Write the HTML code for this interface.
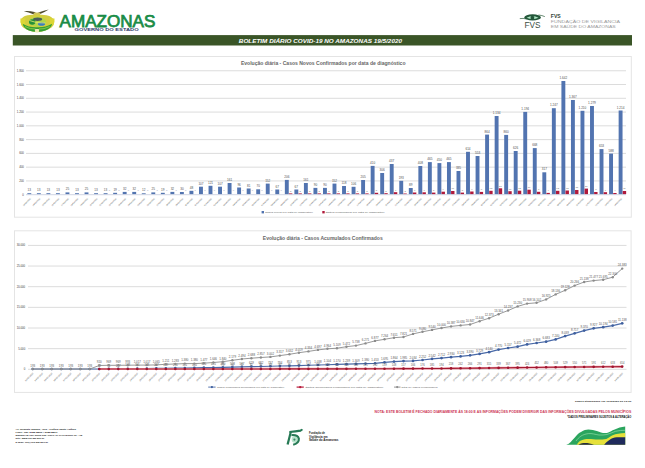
<!DOCTYPE html>
<html lang="pt-BR"><head><meta charset="utf-8"><title>Boletim Diário COVID-19 no Amazonas</title>
<style>html,body{margin:0;padding:0;background:#fff;width:645px;height:468px;overflow:hidden}svg{display:block}</style>
</head><body>
<svg width="645" height="468" viewBox="0 0 645 468" font-family="Liberation Sans, Arial, sans-serif">
<rect width="645" height="468" fill="#fff"/>
<g id="coat">
<path d="M23.8 11.2 Q29 10.6 34.5 12.1 L36.8 13.4 L39.2 12.2 Q43.6 10.3 48.8 9.4 Q45.2 11.6 41.2 13.6 L37.2 15.3 L33.2 14.2 Q28.8 12.4 23.8 11.2Z" fill="#4e4a2c"/>
<path d="M33.6 12.8 Q37 12 40.4 12.8 L40 15.8 L34 15.8Z" fill="#cfc45a"/>
<path d="M21 20.5 Q21.5 16.5 27.5 15.3 Q37 13.8 46.5 15.3 Q52.8 16.5 53.8 20.5 Q54.8 24.5 51.5 27.5 Q45 31.8 37.2 32 Q29.5 31.8 23.2 27.5 Q20 24.5 21 20.5Z" fill="#d2cd3e"/>
<path d="M20.4 18.5 Q19.8 22.5 21.8 25.4 L25.4 24.5 Q24.2 21.5 25.6 18.2Z" fill="#dcd636"/>
<path d="M54.5 18.5 Q55.1 22.5 53.1 25.4 L49.5 24.5 Q50.7 21.5 49.3 18.2Z" fill="#dcd636"/>
<ellipse cx="37.4" cy="21.9" rx="8.8" ry="4.8" fill="#b2d648"/>
<ellipse cx="37.6" cy="19.3" rx="4.6" ry="1.7" fill="#4a5c5a"/>
<ellipse cx="32.2" cy="22" rx="3.2" ry="2.7" fill="#23903a"/>
<ellipse cx="41.5" cy="24" rx="3.6" ry="1.8" fill="#3c7cc0"/>
<path d="M29.5 20.5 Q36 23.5 45.5 23" stroke="#e4e870" stroke-width="0.8" fill="none"/>
<path d="M22.6 23.8 Q29 27.6 37.2 27.3 Q45.5 27.6 52.2 23.8 Q51 28.6 45.5 30.4 Q41 31.8 37.2 31.6 Q33.2 31.8 28.8 30.4 Q23.8 28.6 22.6 23.8Z" fill="#34a034"/>
<path d="M25 26.6 Q30.5 29.4 35.5 29 M39 29 Q44 29.4 49.6 26.6" stroke="#a8d450" stroke-width="0.7" fill="none"/>
<path d="M34.8 29.2 Q37 28.6 39.2 29.2 L38.8 32.3 Q37 32.8 35.2 32.3Z" fill="#f2eeb8"/>
</g>
<text x="59.6" y="26.8" font-size="16.6" fill="#1a8c46" stroke="#1a8c46" stroke-width="0.75" textLength="95.8" lengthAdjust="spacingAndGlyphs">AMAZONAS</text>
<text x="74.6" y="30.8" font-size="2.9" font-weight="bold" fill="#2b3a6a" textLength="64" lengthAdjust="spacingAndGlyphs">GOVERNO DO ESTADO</text>
<g id="fvs">
<path d="M519.8 18.6 Q523 18.1 526.5 18.9" stroke="#2a5a3a" stroke-width="0.7" fill="none"/>
<path d="M538.5 15 Q542 15.3 544.8 16.6" stroke="#2a5a3a" stroke-width="0.7" fill="none"/>
<ellipse cx="532.6" cy="17.4" rx="8.3" ry="3.1" fill="#24573a"/>
<path d="M526.6 17.7 Q532.5 14.9 538.5 17.7 Q532.5 20.3 526.6 17.7Z" fill="#aee6c4"/>
<circle cx="532.4" cy="17.7" r="1.9" fill="#24573a"/>
</g>
<text x="524.6" y="28.4" font-size="8.3" fill="#3a4d42" textLength="16" lengthAdjust="spacingAndGlyphs">FVS</text>
<text x="550.8" y="18.3" font-size="5.2" font-weight="bold" fill="#2f3f35" textLength="9.9" lengthAdjust="spacingAndGlyphs">FVS</text>
<text x="550.8" y="23.4" font-size="3.6" fill="#9a9a9a" textLength="69.2" lengthAdjust="spacingAndGlyphs">FUNDAÇÃO DE VIGILÂNCIA</text>
<text x="550.8" y="28.0" font-size="3.6" fill="#9a9a9a" textLength="64.9" lengthAdjust="spacingAndGlyphs">EM SAÚDE DO AMAZONAS</text>
<rect x="12.8" y="35.1" width="619.2" height="10.4" fill="#3a5527"/>
<text x="238.8" y="42.8" font-size="5.6" font-weight="bold" font-style="italic" fill="#fff" textLength="163.2" lengthAdjust="spacingAndGlyphs">BOLETIM DIÁRIO COVID-19 NO AMAZONAS 19/5/2020</text>
<rect x="14.5" y="56.5" width="616.8" height="160.7" fill="#fff" stroke="#e4e4e4" stroke-width="1"/>
<text x="240.9" y="65.2" font-size="5.2" font-weight="bold" fill="#666" textLength="164.6" lengthAdjust="spacingAndGlyphs">Evolução diária - Casos Novos Confirmados por data de diagnóstico</text>
<line x1="26" y1="70.75" x2="626" y2="70.75" stroke="#dcdcdc" stroke-width="1"/>
<text x="23.8" y="71.75" font-size="2.8" fill="#404040" text-anchor="end">1.800</text>
<line x1="26" y1="84.52" x2="626" y2="84.52" stroke="#dcdcdc" stroke-width="1"/>
<text x="23.8" y="85.52" font-size="2.8" fill="#404040" text-anchor="end">1.600</text>
<line x1="26" y1="98.29" x2="626" y2="98.29" stroke="#dcdcdc" stroke-width="1"/>
<text x="23.8" y="99.29" font-size="2.8" fill="#404040" text-anchor="end">1.400</text>
<line x1="26" y1="112.07" x2="626" y2="112.07" stroke="#dcdcdc" stroke-width="1"/>
<text x="23.8" y="113.07" font-size="2.8" fill="#404040" text-anchor="end">1.200</text>
<line x1="26" y1="125.84" x2="626" y2="125.84" stroke="#dcdcdc" stroke-width="1"/>
<text x="23.8" y="126.84" font-size="2.8" fill="#404040" text-anchor="end">1.000</text>
<line x1="26" y1="139.61" x2="626" y2="139.61" stroke="#dcdcdc" stroke-width="1"/>
<text x="23.8" y="140.61" font-size="2.8" fill="#404040" text-anchor="end">800</text>
<line x1="26" y1="153.38" x2="626" y2="153.38" stroke="#dcdcdc" stroke-width="1"/>
<text x="23.8" y="154.38" font-size="2.8" fill="#404040" text-anchor="end">600</text>
<line x1="26" y1="167.16" x2="626" y2="167.16" stroke="#dcdcdc" stroke-width="1"/>
<text x="23.8" y="168.16" font-size="2.8" fill="#404040" text-anchor="end">400</text>
<line x1="26" y1="180.93" x2="626" y2="180.93" stroke="#dcdcdc" stroke-width="1"/>
<text x="23.8" y="181.93" font-size="2.8" fill="#404040" text-anchor="end">200</text>
<line x1="26" y1="194.70" x2="626" y2="194.70" stroke="#d0d6e4" stroke-width="1"/>
<text x="23.8" y="195.70" font-size="2.8" fill="#404040" text-anchor="end">0</text>
<rect x="27.35" y="193.20" width="3.9" height="0.90" fill="#5274b0"/>
<text x="29.30" y="191.20" font-size="3.1" fill="#505050" text-anchor="middle">13</text>
<text x="31.00" y="198.90" font-size="2.1" fill="#4a4a4a" text-anchor="end" transform="rotate(-45 31.00 198.90)">13/03/2020</text>
<rect x="36.89" y="193.20" width="3.9" height="0.90" fill="#5274b0"/>
<text x="38.84" y="191.20" font-size="3.1" fill="#505050" text-anchor="middle">13</text>
<text x="40.54" y="198.90" font-size="2.1" fill="#4a4a4a" text-anchor="end" transform="rotate(-45 40.54 198.90)">14/03/2020</text>
<rect x="46.42" y="193.20" width="3.9" height="0.90" fill="#5274b0"/>
<text x="48.37" y="191.20" font-size="3.1" fill="#505050" text-anchor="middle">13</text>
<text x="50.07" y="198.90" font-size="2.1" fill="#4a4a4a" text-anchor="end" transform="rotate(-45 50.07 198.90)">15/03/2020</text>
<rect x="55.96" y="193.20" width="3.9" height="0.90" fill="#5274b0"/>
<text x="57.91" y="191.20" font-size="3.1" fill="#505050" text-anchor="middle">13</text>
<text x="59.61" y="198.90" font-size="2.1" fill="#4a4a4a" text-anchor="end" transform="rotate(-45 59.61 198.90)">16/03/2020</text>
<rect x="65.50" y="192.40" width="3.9" height="1.70" fill="#5274b0"/>
<text x="67.45" y="190.40" font-size="3.1" fill="#505050" text-anchor="middle">25</text>
<text x="69.15" y="198.90" font-size="2.1" fill="#4a4a4a" text-anchor="end" transform="rotate(-45 69.15 198.90)">17/03/2020</text>
<rect x="75.03" y="193.20" width="3.9" height="0.90" fill="#5274b0"/>
<text x="76.98" y="191.20" font-size="3.1" fill="#505050" text-anchor="middle">13</text>
<text x="78.69" y="198.90" font-size="2.1" fill="#4a4a4a" text-anchor="end" transform="rotate(-45 78.69 198.90)">18/03/2020</text>
<rect x="84.57" y="192.40" width="3.9" height="1.70" fill="#5274b0"/>
<text x="86.52" y="190.40" font-size="3.1" fill="#505050" text-anchor="middle">25</text>
<text x="88.22" y="198.90" font-size="2.1" fill="#4a4a4a" text-anchor="end" transform="rotate(-45 88.22 198.90)">19/03/2020</text>
<rect x="94.11" y="193.20" width="3.9" height="0.90" fill="#5274b0"/>
<text x="96.06" y="191.20" font-size="3.1" fill="#505050" text-anchor="middle">13</text>
<text x="97.76" y="198.90" font-size="2.1" fill="#4a4a4a" text-anchor="end" transform="rotate(-45 97.76 198.90)">20/03/2020</text>
<rect x="103.65" y="193.20" width="3.9" height="0.90" fill="#5274b0"/>
<text x="105.60" y="191.20" font-size="3.1" fill="#505050" text-anchor="middle">13</text>
<text x="109.45" y="191.10" font-size="2.4" fill="#8090b0" text-anchor="middle">0</text>
<text x="107.30" y="198.90" font-size="2.1" fill="#4a4a4a" text-anchor="end" transform="rotate(-45 107.30 198.90)">21/03/2020</text>
<rect x="113.18" y="192.80" width="3.9" height="1.30" fill="#5274b0"/>
<text x="115.13" y="190.80" font-size="3.1" fill="#505050" text-anchor="middle">19</text>
<text x="118.98" y="191.10" font-size="2.4" fill="#8090b0" text-anchor="middle">0</text>
<text x="116.83" y="198.90" font-size="2.1" fill="#4a4a4a" text-anchor="end" transform="rotate(-45 116.83 198.90)">22/03/2020</text>
<rect x="122.72" y="191.90" width="3.9" height="2.20" fill="#5274b0"/>
<text x="124.67" y="189.90" font-size="3.1" fill="#505050" text-anchor="middle">32</text>
<text x="128.52" y="191.10" font-size="2.4" fill="#8090b0" text-anchor="middle">0</text>
<text x="126.37" y="198.90" font-size="2.1" fill="#4a4a4a" text-anchor="end" transform="rotate(-45 126.37 198.90)">23/03/2020</text>
<rect x="132.26" y="191.90" width="3.9" height="2.20" fill="#5274b0"/>
<text x="134.21" y="189.90" font-size="3.1" fill="#505050" text-anchor="middle">32</text>
<text x="138.06" y="191.10" font-size="2.4" fill="#8090b0" text-anchor="middle">0</text>
<text x="135.91" y="198.90" font-size="2.1" fill="#4a4a4a" text-anchor="end" transform="rotate(-45 135.91 198.90)">24/03/2020</text>
<rect x="141.79" y="193.30" width="3.9" height="0.80" fill="#5274b0"/>
<text x="143.74" y="191.30" font-size="3.1" fill="#505050" text-anchor="middle">12</text>
<text x="147.59" y="191.10" font-size="2.4" fill="#8090b0" text-anchor="middle">0</text>
<text x="145.44" y="198.90" font-size="2.1" fill="#4a4a4a" text-anchor="end" transform="rotate(-45 145.44 198.90)">25/03/2020</text>
<rect x="151.33" y="192.40" width="3.9" height="1.70" fill="#5274b0"/>
<text x="153.28" y="190.40" font-size="3.1" fill="#505050" text-anchor="middle">25</text>
<text x="157.13" y="191.10" font-size="2.4" fill="#8090b0" text-anchor="middle">0</text>
<text x="154.98" y="198.90" font-size="2.1" fill="#4a4a4a" text-anchor="end" transform="rotate(-45 154.98 198.90)">26/03/2020</text>
<rect x="160.87" y="192.80" width="3.9" height="1.30" fill="#5274b0"/>
<text x="162.82" y="190.80" font-size="3.1" fill="#505050" text-anchor="middle">19</text>
<text x="166.67" y="191.10" font-size="2.4" fill="#8090b0" text-anchor="middle">0</text>
<text x="164.52" y="198.90" font-size="2.1" fill="#4a4a4a" text-anchor="end" transform="rotate(-45 164.52 198.90)">27/03/2020</text>
<rect x="170.41" y="191.90" width="3.9" height="2.20" fill="#5274b0"/>
<text x="172.36" y="189.90" font-size="3.1" fill="#505050" text-anchor="middle">32</text>
<text x="176.21" y="191.10" font-size="2.4" fill="#8090b0" text-anchor="middle">0</text>
<text x="174.06" y="198.90" font-size="2.1" fill="#4a4a4a" text-anchor="end" transform="rotate(-45 174.06 198.90)">28/03/2020</text>
<rect x="179.94" y="192.00" width="3.9" height="2.10" fill="#5274b0"/>
<text x="181.89" y="190.00" font-size="3.1" fill="#505050" text-anchor="middle">30</text>
<text x="185.74" y="191.10" font-size="2.4" fill="#8090b0" text-anchor="middle">0</text>
<text x="183.59" y="198.90" font-size="2.1" fill="#4a4a4a" text-anchor="end" transform="rotate(-45 183.59 198.90)">29/03/2020</text>
<rect x="189.48" y="190.80" width="3.9" height="3.30" fill="#5274b0"/>
<text x="191.43" y="188.80" font-size="3.1" fill="#505050" text-anchor="middle">48</text>
<text x="195.28" y="191.10" font-size="2.4" fill="#8090b0" text-anchor="middle">0</text>
<text x="193.13" y="198.90" font-size="2.1" fill="#4a4a4a" text-anchor="end" transform="rotate(-45 193.13 198.90)">30/03/2020</text>
<rect x="199.02" y="186.70" width="3.9" height="7.40" fill="#5274b0"/>
<text x="200.97" y="184.70" font-size="3.1" fill="#505050" text-anchor="middle">107</text>
<text x="204.82" y="191.10" font-size="2.4" fill="#8090b0" text-anchor="middle">0</text>
<text x="202.67" y="198.90" font-size="2.1" fill="#4a4a4a" text-anchor="end" transform="rotate(-45 202.67 198.90)">31/03/2020</text>
<rect x="208.55" y="185.80" width="3.9" height="8.30" fill="#5274b0"/>
<text x="210.50" y="183.80" font-size="3.1" fill="#505050" text-anchor="middle">121</text>
<text x="214.35" y="191.10" font-size="2.4" fill="#8090b0" text-anchor="middle">0</text>
<text x="212.20" y="198.90" font-size="2.1" fill="#4a4a4a" text-anchor="end" transform="rotate(-45 212.20 198.90)">01/04/2020</text>
<rect x="218.09" y="186.70" width="3.9" height="7.40" fill="#5274b0"/>
<text x="220.04" y="184.70" font-size="3.1" fill="#505050" text-anchor="middle">107</text>
<text x="223.89" y="191.10" font-size="2.4" fill="#8090b0" text-anchor="middle">0</text>
<text x="221.74" y="198.90" font-size="2.1" fill="#4a4a4a" text-anchor="end" transform="rotate(-45 221.74 198.90)">02/04/2020</text>
<rect x="227.63" y="183.00" width="3.9" height="11.10" fill="#5274b0"/>
<text x="229.58" y="181.00" font-size="3.1" fill="#505050" text-anchor="middle">161</text>
<text x="233.43" y="191.10" font-size="2.4" fill="#8090b0" text-anchor="middle">0</text>
<text x="231.28" y="198.90" font-size="2.1" fill="#4a4a4a" text-anchor="end" transform="rotate(-45 231.28 198.90)">03/04/2020</text>
<rect x="237.16" y="187.50" width="3.9" height="6.60" fill="#5274b0"/>
<text x="239.11" y="185.50" font-size="3.1" fill="#505050" text-anchor="middle">96</text>
<text x="242.96" y="191.10" font-size="2.4" fill="#8090b0" text-anchor="middle">0</text>
<text x="240.81" y="198.90" font-size="2.1" fill="#4a4a4a" text-anchor="end" transform="rotate(-45 240.81 198.90)">04/04/2020</text>
<rect x="246.70" y="188.50" width="3.9" height="5.60" fill="#5274b0"/>
<text x="248.65" y="186.50" font-size="3.1" fill="#505050" text-anchor="middle">81</text>
<text x="252.50" y="191.10" font-size="2.4" fill="#8090b0" text-anchor="middle">0</text>
<text x="250.35" y="198.90" font-size="2.1" fill="#4a4a4a" text-anchor="end" transform="rotate(-45 250.35 198.90)">05/04/2020</text>
<rect x="256.24" y="189.30" width="3.9" height="4.80" fill="#5274b0"/>
<text x="258.19" y="187.30" font-size="3.1" fill="#505050" text-anchor="middle">70</text>
<text x="262.04" y="191.10" font-size="2.4" fill="#8090b0" text-anchor="middle">0</text>
<text x="259.89" y="198.90" font-size="2.1" fill="#4a4a4a" text-anchor="end" transform="rotate(-45 259.89 198.90)">06/04/2020</text>
<rect x="265.78" y="183.60" width="3.9" height="10.50" fill="#5274b0"/>
<text x="267.73" y="181.60" font-size="3.1" fill="#505050" text-anchor="middle">152</text>
<text x="271.57" y="191.10" font-size="2.4" fill="#8090b0" text-anchor="middle">0</text>
<text x="269.43" y="198.90" font-size="2.1" fill="#4a4a4a" text-anchor="end" transform="rotate(-45 269.43 198.90)">07/04/2020</text>
<rect x="275.31" y="189.50" width="3.9" height="4.60" fill="#5274b0"/>
<text x="277.26" y="187.50" font-size="3.1" fill="#505050" text-anchor="middle">67</text>
<text x="281.11" y="191.10" font-size="2.4" fill="#8090b0" text-anchor="middle">0</text>
<text x="278.96" y="198.90" font-size="2.1" fill="#4a4a4a" text-anchor="end" transform="rotate(-45 278.96 198.90)">08/04/2020</text>
<rect x="284.85" y="179.90" width="3.9" height="14.20" fill="#5274b0"/>
<text x="286.80" y="177.90" font-size="3.1" fill="#505050" text-anchor="middle">206</text>
<rect x="288.95" y="193.40" width="3.4" height="0.70" fill="#b01a3c"/>
<text x="290.65" y="191.80" font-size="2.4" fill="#707070" text-anchor="middle">3</text>
<text x="288.50" y="198.90" font-size="2.1" fill="#4a4a4a" text-anchor="end" transform="rotate(-45 288.50 198.90)">09/04/2020</text>
<rect x="294.39" y="189.50" width="3.9" height="4.60" fill="#5274b0"/>
<text x="296.34" y="187.50" font-size="3.1" fill="#505050" text-anchor="middle">67</text>
<rect x="298.49" y="193.40" width="3.4" height="0.70" fill="#b01a3c"/>
<text x="300.19" y="191.80" font-size="2.4" fill="#707070" text-anchor="middle">3</text>
<text x="298.04" y="198.90" font-size="2.1" fill="#4a4a4a" text-anchor="end" transform="rotate(-45 298.04 198.90)">10/04/2020</text>
<rect x="303.92" y="183.00" width="3.9" height="11.10" fill="#5274b0"/>
<text x="305.87" y="181.00" font-size="3.1" fill="#505050" text-anchor="middle">161</text>
<rect x="308.02" y="193.40" width="3.4" height="0.70" fill="#b01a3c"/>
<text x="309.72" y="191.80" font-size="2.4" fill="#707070" text-anchor="middle">3</text>
<text x="307.57" y="198.90" font-size="2.1" fill="#4a4a4a" text-anchor="end" transform="rotate(-45 307.57 198.90)">11/04/2020</text>
<rect x="313.46" y="187.90" width="3.9" height="6.20" fill="#5274b0"/>
<text x="315.41" y="185.90" font-size="3.1" fill="#505050" text-anchor="middle">90</text>
<rect x="317.56" y="193.40" width="3.4" height="0.70" fill="#b01a3c"/>
<text x="319.26" y="191.80" font-size="2.4" fill="#707070" text-anchor="middle">3</text>
<text x="317.11" y="198.90" font-size="2.1" fill="#4a4a4a" text-anchor="end" transform="rotate(-45 317.11 198.90)">12/04/2020</text>
<rect x="323.00" y="187.90" width="3.9" height="6.20" fill="#5274b0"/>
<text x="324.95" y="185.90" font-size="3.1" fill="#505050" text-anchor="middle">90</text>
<rect x="327.10" y="193.40" width="3.4" height="0.70" fill="#b01a3c"/>
<text x="328.80" y="191.80" font-size="2.4" fill="#707070" text-anchor="middle">3</text>
<text x="326.65" y="198.90" font-size="2.1" fill="#4a4a4a" text-anchor="end" transform="rotate(-45 326.65 198.90)">13/04/2020</text>
<rect x="332.53" y="183.60" width="3.9" height="10.50" fill="#5274b0"/>
<text x="334.48" y="181.60" font-size="3.1" fill="#505050" text-anchor="middle">152</text>
<rect x="336.63" y="193.40" width="3.4" height="0.70" fill="#b01a3c"/>
<text x="338.33" y="191.80" font-size="2.4" fill="#707070" text-anchor="middle">3</text>
<text x="336.18" y="198.90" font-size="2.1" fill="#4a4a4a" text-anchor="end" transform="rotate(-45 336.18 198.90)">14/04/2020</text>
<rect x="342.07" y="186.00" width="3.9" height="8.10" fill="#5274b0"/>
<text x="344.02" y="184.00" font-size="3.1" fill="#505050" text-anchor="middle">118</text>
<rect x="346.17" y="193.40" width="3.4" height="0.70" fill="#b01a3c"/>
<text x="347.87" y="191.80" font-size="2.4" fill="#707070" text-anchor="middle">3</text>
<text x="345.72" y="198.90" font-size="2.1" fill="#4a4a4a" text-anchor="end" transform="rotate(-45 345.72 198.90)">15/04/2020</text>
<rect x="351.61" y="186.80" width="3.9" height="7.30" fill="#5274b0"/>
<text x="353.56" y="184.80" font-size="3.1" fill="#505050" text-anchor="middle">106</text>
<rect x="355.71" y="193.40" width="3.4" height="0.70" fill="#b01a3c"/>
<text x="357.41" y="191.80" font-size="2.4" fill="#707070" text-anchor="middle">3</text>
<text x="355.26" y="198.90" font-size="2.1" fill="#4a4a4a" text-anchor="end" transform="rotate(-45 355.26 198.90)">16/04/2020</text>
<rect x="361.15" y="180.00" width="3.9" height="14.10" fill="#5274b0"/>
<text x="363.10" y="178.00" font-size="3.1" fill="#505050" text-anchor="middle">205</text>
<rect x="365.25" y="193.40" width="3.4" height="0.70" fill="#b01a3c"/>
<text x="366.94" y="191.80" font-size="2.4" fill="#707070" text-anchor="middle">3</text>
<text x="364.80" y="198.90" font-size="2.1" fill="#4a4a4a" text-anchor="end" transform="rotate(-45 364.80 198.90)">17/04/2020</text>
<rect x="370.68" y="165.90" width="3.9" height="28.20" fill="#5274b0"/>
<text x="372.63" y="163.90" font-size="3.1" fill="#505050" text-anchor="middle">410</text>
<rect x="374.78" y="192.80" width="3.4" height="1.30" fill="#b01a3c"/>
<text x="376.48" y="191.20" font-size="2.4" fill="#707070" text-anchor="middle">5</text>
<text x="374.33" y="198.90" font-size="2.1" fill="#4a4a4a" text-anchor="end" transform="rotate(-45 374.33 198.90)">18/04/2020</text>
<rect x="380.22" y="173.00" width="3.9" height="21.10" fill="#5274b0"/>
<text x="382.17" y="171.00" font-size="3.1" fill="#505050" text-anchor="middle">306</text>
<rect x="384.32" y="193.20" width="3.4" height="0.90" fill="#b01a3c"/>
<text x="386.02" y="191.60" font-size="2.4" fill="#707070" text-anchor="middle">3</text>
<text x="383.87" y="198.90" font-size="2.1" fill="#4a4a4a" text-anchor="end" transform="rotate(-45 383.87 198.90)">19/04/2020</text>
<rect x="389.76" y="164.00" width="3.9" height="30.10" fill="#5274b0"/>
<text x="391.71" y="162.00" font-size="3.1" fill="#505050" text-anchor="middle">437</text>
<rect x="393.86" y="192.20" width="3.4" height="1.90" fill="#b01a3c"/>
<text x="395.56" y="190.60" font-size="2.4" fill="#707070" text-anchor="middle">7</text>
<text x="393.41" y="198.90" font-size="2.1" fill="#4a4a4a" text-anchor="end" transform="rotate(-45 393.41 198.90)">20/04/2020</text>
<rect x="399.29" y="180.80" width="3.9" height="13.30" fill="#5274b0"/>
<text x="401.24" y="178.80" font-size="3.1" fill="#505050" text-anchor="middle">193</text>
<rect x="403.39" y="193.50" width="3.4" height="0.60" fill="#b01a3c"/>
<text x="405.09" y="191.90" font-size="2.4" fill="#707070" text-anchor="middle">2</text>
<text x="402.94" y="198.90" font-size="2.1" fill="#4a4a4a" text-anchor="end" transform="rotate(-45 402.94 198.90)">21/04/2020</text>
<rect x="408.83" y="188.00" width="3.9" height="6.10" fill="#5274b0"/>
<text x="410.78" y="186.00" font-size="3.1" fill="#505050" text-anchor="middle">89</text>
<rect x="412.93" y="192.50" width="3.4" height="1.60" fill="#b01a3c"/>
<text x="414.63" y="190.90" font-size="2.4" fill="#707070" text-anchor="middle">6</text>
<text x="412.48" y="198.90" font-size="2.1" fill="#4a4a4a" text-anchor="end" transform="rotate(-45 412.48 198.90)">22/04/2020</text>
<rect x="418.37" y="166.00" width="3.9" height="28.10" fill="#5274b0"/>
<text x="420.32" y="164.00" font-size="3.1" fill="#505050" text-anchor="middle">408</text>
<rect x="422.47" y="192.30" width="3.4" height="1.80" fill="#b01a3c"/>
<text x="424.17" y="190.70" font-size="2.4" fill="#707070" text-anchor="middle">7</text>
<text x="422.02" y="198.90" font-size="2.1" fill="#4a4a4a" text-anchor="end" transform="rotate(-45 422.02 198.90)">23/04/2020</text>
<rect x="427.90" y="162.10" width="3.9" height="32.00" fill="#5274b0"/>
<text x="429.85" y="160.10" font-size="3.1" fill="#505050" text-anchor="middle">465</text>
<rect x="432.00" y="192.60" width="3.4" height="1.50" fill="#b01a3c"/>
<text x="433.70" y="191.00" font-size="2.4" fill="#707070" text-anchor="middle">5</text>
<text x="431.55" y="198.90" font-size="2.1" fill="#4a4a4a" text-anchor="end" transform="rotate(-45 431.55 198.90)">24/04/2020</text>
<rect x="437.44" y="163.10" width="3.9" height="31.00" fill="#5274b0"/>
<text x="439.39" y="161.10" font-size="3.1" fill="#505050" text-anchor="middle">450</text>
<rect x="441.54" y="191.70" width="3.4" height="2.40" fill="#b01a3c"/>
<text x="443.24" y="190.10" font-size="2.4" fill="#707070" text-anchor="middle">9</text>
<text x="441.09" y="198.90" font-size="2.1" fill="#4a4a4a" text-anchor="end" transform="rotate(-45 441.09 198.90)">25/04/2020</text>
<rect x="446.98" y="162.10" width="3.9" height="32.00" fill="#5274b0"/>
<text x="448.93" y="160.10" font-size="3.1" fill="#505050" text-anchor="middle">465</text>
<rect x="451.08" y="191.00" width="3.4" height="3.10" fill="#b01a3c"/>
<text x="452.78" y="189.40" font-size="2.4" fill="#707070" text-anchor="middle">11</text>
<text x="450.63" y="198.90" font-size="2.1" fill="#4a4a4a" text-anchor="end" transform="rotate(-45 450.63 198.90)">26/04/2020</text>
<rect x="456.52" y="171.00" width="3.9" height="23.10" fill="#5274b0"/>
<text x="458.47" y="169.00" font-size="3.1" fill="#505050" text-anchor="middle">335</text>
<rect x="460.62" y="192.60" width="3.4" height="1.50" fill="#b01a3c"/>
<text x="462.31" y="191.00" font-size="2.4" fill="#707070" text-anchor="middle">5</text>
<text x="460.17" y="198.90" font-size="2.1" fill="#4a4a4a" text-anchor="end" transform="rotate(-45 460.17 198.90)">27/04/2020</text>
<rect x="466.05" y="151.80" width="3.9" height="42.30" fill="#5274b0"/>
<text x="468.00" y="149.80" font-size="3.1" fill="#505050" text-anchor="middle">614</text>
<rect x="470.15" y="191.50" width="3.4" height="2.60" fill="#b01a3c"/>
<text x="471.85" y="189.90" font-size="2.4" fill="#707070" text-anchor="middle">9</text>
<text x="469.70" y="198.90" font-size="2.1" fill="#4a4a4a" text-anchor="end" transform="rotate(-45 469.70 198.90)">28/04/2020</text>
<rect x="475.59" y="156.00" width="3.9" height="38.10" fill="#5274b0"/>
<text x="477.54" y="154.00" font-size="3.1" fill="#505050" text-anchor="middle">553</text>
<rect x="479.69" y="191.90" width="3.4" height="2.20" fill="#b01a3c"/>
<text x="481.39" y="190.30" font-size="2.4" fill="#707070" text-anchor="middle">8</text>
<text x="479.24" y="198.90" font-size="2.1" fill="#4a4a4a" text-anchor="end" transform="rotate(-45 479.24 198.90)">29/04/2020</text>
<rect x="485.13" y="134.60" width="3.9" height="59.50" fill="#5274b0"/>
<text x="487.08" y="132.60" font-size="3.1" fill="#505050" text-anchor="middle">864</text>
<rect x="489.23" y="190.80" width="3.4" height="3.30" fill="#b01a3c"/>
<text x="490.93" y="189.20" font-size="2.4" fill="#707070" text-anchor="middle">12</text>
<text x="488.78" y="198.90" font-size="2.1" fill="#4a4a4a" text-anchor="end" transform="rotate(-45 488.78 198.90)">30/04/2020</text>
<rect x="494.66" y="116.00" width="3.9" height="78.10" fill="#5274b0"/>
<text x="496.61" y="114.00" font-size="3.1" fill="#505050" text-anchor="middle">1.134</text>
<rect x="498.76" y="188.30" width="3.4" height="5.80" fill="#b01a3c"/>
<text x="500.46" y="186.70" font-size="2.4" fill="#707070" text-anchor="middle">21</text>
<text x="498.31" y="198.90" font-size="2.1" fill="#4a4a4a" text-anchor="end" transform="rotate(-45 498.31 198.90)">01/05/2020</text>
<rect x="504.20" y="134.90" width="3.9" height="59.20" fill="#5274b0"/>
<text x="506.15" y="132.90" font-size="3.1" fill="#505050" text-anchor="middle">860</text>
<rect x="508.30" y="191.20" width="3.4" height="2.90" fill="#b01a3c"/>
<text x="510.00" y="189.60" font-size="2.4" fill="#707070" text-anchor="middle">11</text>
<text x="507.85" y="198.90" font-size="2.1" fill="#4a4a4a" text-anchor="end" transform="rotate(-45 507.85 198.90)">02/05/2020</text>
<rect x="513.74" y="151.00" width="3.9" height="43.10" fill="#5274b0"/>
<text x="515.69" y="149.00" font-size="3.1" fill="#505050" text-anchor="middle">626</text>
<rect x="517.84" y="190.70" width="3.4" height="3.40" fill="#b01a3c"/>
<text x="519.54" y="189.10" font-size="2.4" fill="#707070" text-anchor="middle">12</text>
<text x="517.39" y="198.90" font-size="2.1" fill="#4a4a4a" text-anchor="end" transform="rotate(-45 517.39 198.90)">03/05/2020</text>
<rect x="523.27" y="111.90" width="3.9" height="82.20" fill="#5274b0"/>
<text x="525.22" y="109.90" font-size="3.1" fill="#505050" text-anchor="middle">1.194</text>
<rect x="527.37" y="189.70" width="3.4" height="4.40" fill="#b01a3c"/>
<text x="529.07" y="188.10" font-size="2.4" fill="#707070" text-anchor="middle">16</text>
<text x="526.92" y="198.90" font-size="2.1" fill="#4a4a4a" text-anchor="end" transform="rotate(-45 526.92 198.90)">04/05/2020</text>
<rect x="532.81" y="148.10" width="3.9" height="46.00" fill="#5274b0"/>
<text x="534.76" y="146.10" font-size="3.1" fill="#505050" text-anchor="middle">668</text>
<rect x="536.91" y="191.80" width="3.4" height="2.30" fill="#b01a3c"/>
<text x="538.61" y="190.20" font-size="2.4" fill="#707070" text-anchor="middle">8</text>
<text x="536.46" y="198.90" font-size="2.1" fill="#4a4a4a" text-anchor="end" transform="rotate(-45 536.46 198.90)">05/05/2020</text>
<rect x="542.35" y="172.30" width="3.9" height="21.80" fill="#5274b0"/>
<text x="544.30" y="170.30" font-size="3.1" fill="#505050" text-anchor="middle">317</text>
<rect x="546.45" y="192.90" width="3.4" height="1.20" fill="#b01a3c"/>
<text x="548.15" y="191.30" font-size="2.4" fill="#707070" text-anchor="middle">4</text>
<text x="546.00" y="198.90" font-size="2.1" fill="#4a4a4a" text-anchor="end" transform="rotate(-45 546.00 198.90)">06/05/2020</text>
<rect x="551.88" y="108.20" width="3.9" height="85.90" fill="#5274b0"/>
<text x="553.84" y="106.20" font-size="3.1" fill="#505050" text-anchor="middle">1.247</text>
<rect x="555.99" y="190.80" width="3.4" height="3.30" fill="#b01a3c"/>
<text x="557.69" y="189.20" font-size="2.4" fill="#707070" text-anchor="middle">12</text>
<text x="555.54" y="198.90" font-size="2.1" fill="#4a4a4a" text-anchor="end" transform="rotate(-45 555.54 198.90)">07/05/2020</text>
<rect x="561.42" y="81.00" width="3.9" height="113.10" fill="#5274b0"/>
<text x="563.37" y="79.00" font-size="3.1" fill="#505050" text-anchor="middle">1.642</text>
<rect x="565.52" y="190.50" width="3.4" height="3.60" fill="#b01a3c"/>
<text x="567.22" y="188.90" font-size="2.4" fill="#707070" text-anchor="middle">13</text>
<text x="565.07" y="198.90" font-size="2.1" fill="#4a4a4a" text-anchor="end" transform="rotate(-45 565.07 198.90)">08/05/2020</text>
<rect x="570.96" y="100.00" width="3.9" height="94.10" fill="#5274b0"/>
<text x="572.91" y="98.00" font-size="3.1" fill="#505050" text-anchor="middle">1.367</text>
<rect x="575.06" y="190.00" width="3.4" height="4.10" fill="#b01a3c"/>
<text x="576.76" y="188.40" font-size="2.4" fill="#707070" text-anchor="middle">15</text>
<text x="574.61" y="198.90" font-size="2.1" fill="#4a4a4a" text-anchor="end" transform="rotate(-45 574.61 198.90)">09/05/2020</text>
<rect x="580.50" y="110.80" width="3.9" height="83.30" fill="#5274b0"/>
<text x="582.45" y="108.80" font-size="3.1" fill="#505050" text-anchor="middle">1.210</text>
<rect x="584.60" y="188.60" width="3.4" height="5.50" fill="#b01a3c"/>
<text x="586.30" y="187.00" font-size="2.4" fill="#707070" text-anchor="middle">20</text>
<text x="584.15" y="198.90" font-size="2.1" fill="#4a4a4a" text-anchor="end" transform="rotate(-45 584.15 198.90)">10/05/2020</text>
<rect x="590.03" y="106.00" width="3.9" height="88.10" fill="#5274b0"/>
<text x="591.98" y="104.00" font-size="3.1" fill="#505050" text-anchor="middle">1.279</text>
<rect x="594.13" y="192.00" width="3.4" height="2.10" fill="#b01a3c"/>
<text x="595.83" y="190.40" font-size="2.4" fill="#707070" text-anchor="middle">8</text>
<text x="593.68" y="198.90" font-size="2.1" fill="#4a4a4a" text-anchor="end" transform="rotate(-45 593.68 198.90)">11/05/2020</text>
<rect x="599.57" y="149.10" width="3.9" height="45.00" fill="#5274b0"/>
<text x="601.52" y="147.10" font-size="3.1" fill="#505050" text-anchor="middle">653</text>
<rect x="603.67" y="192.20" width="3.4" height="1.90" fill="#b01a3c"/>
<text x="605.37" y="190.60" font-size="2.4" fill="#707070" text-anchor="middle">7</text>
<text x="603.22" y="198.90" font-size="2.1" fill="#4a4a4a" text-anchor="end" transform="rotate(-45 603.22 198.90)">12/05/2020</text>
<rect x="609.11" y="153.60" width="3.9" height="40.50" fill="#5274b0"/>
<text x="611.06" y="151.60" font-size="3.1" fill="#505050" text-anchor="middle">588</text>
<rect x="613.21" y="193.00" width="3.4" height="1.10" fill="#b01a3c"/>
<text x="614.91" y="191.40" font-size="2.4" fill="#707070" text-anchor="middle">4</text>
<text x="612.76" y="198.90" font-size="2.1" fill="#4a4a4a" text-anchor="end" transform="rotate(-45 612.76 198.90)">13/05/2020</text>
<rect x="618.64" y="110.50" width="3.9" height="83.60" fill="#5274b0"/>
<text x="620.59" y="108.50" font-size="3.1" fill="#505050" text-anchor="middle">1.214</text>
<rect x="622.74" y="191.00" width="3.4" height="3.10" fill="#b01a3c"/>
<text x="624.44" y="189.40" font-size="2.4" fill="#707070" text-anchor="middle">11</text>
<text x="622.29" y="198.90" font-size="2.1" fill="#4a4a4a" text-anchor="end" transform="rotate(-45 622.29 198.90)">14/05/2020</text>
<rect x="261.6" y="211" width="2.4" height="2.4" fill="#5274b0"/>
<text x="265" y="213.2" font-size="2.2" fill="#595959" textLength="47.8" lengthAdjust="spacingAndGlyphs">Casos novos por data de diagnóstico</text>
<rect x="322.3" y="211" width="2.4" height="2.4" fill="#b01a3c"/>
<text x="325.6" y="213.2" font-size="2.2" fill="#595959" textLength="58.8" lengthAdjust="spacingAndGlyphs">Óbitos confirmados por data de diagnóstico</text>
<rect x="14.5" y="230.8" width="616.6" height="161.6" fill="#fff" stroke="#e4e4e4" stroke-width="1"/>
<text x="262.8" y="239.6" font-size="5.2" font-weight="bold" fill="#666" textLength="119.9" lengthAdjust="spacingAndGlyphs">Evolução diária - Casos Acumulados Confirmados</text>
<line x1="28" y1="245.40" x2="626.5" y2="245.40" stroke="#dcdcdc" stroke-width="1"/>
<text x="25.2" y="246.40" font-size="2.8" fill="#404040" text-anchor="end">30.000</text>
<line x1="28" y1="266.05" x2="626.5" y2="266.05" stroke="#dcdcdc" stroke-width="1"/>
<text x="25.2" y="267.05" font-size="2.8" fill="#404040" text-anchor="end">25.000</text>
<line x1="28" y1="286.70" x2="626.5" y2="286.70" stroke="#dcdcdc" stroke-width="1"/>
<text x="25.2" y="287.70" font-size="2.8" fill="#404040" text-anchor="end">20.000</text>
<line x1="28" y1="307.35" x2="626.5" y2="307.35" stroke="#dcdcdc" stroke-width="1"/>
<text x="25.2" y="308.35" font-size="2.8" fill="#404040" text-anchor="end">15.000</text>
<line x1="28" y1="328.00" x2="626.5" y2="328.00" stroke="#dcdcdc" stroke-width="1"/>
<text x="25.2" y="329.00" font-size="2.8" fill="#404040" text-anchor="end">10.000</text>
<line x1="28" y1="348.65" x2="626.5" y2="348.65" stroke="#dcdcdc" stroke-width="1"/>
<text x="25.2" y="349.65" font-size="2.8" fill="#404040" text-anchor="end">5.000</text>
<line x1="28" y1="369.30" x2="626.5" y2="369.30" stroke="#dcdcdc" stroke-width="1"/>
<text x="25.2" y="370.30" font-size="2.8" fill="#404040" text-anchor="end">0</text>
<polyline points="32.70,369.00 42.21,369.00 51.72,369.00 61.22,369.00 70.73,369.00 80.24,369.00 89.75,369.00 99.26,368.98 108.76,368.93 118.27,368.86 127.78,368.77 137.29,368.68 146.80,368.57 156.30,368.44 165.81,368.31 175.32,368.17 184.83,368.02 194.34,367.86 203.84,367.68 213.35,367.50 222.86,367.32 232.37,367.12 241.88,366.92 251.38,366.70 260.89,366.48 270.40,366.26 279.91,366.02 289.42,365.78 298.92,365.53 308.43,365.27 317.94,365.01 327.45,364.74 336.96,364.47 346.46,364.18 355.97,363.90 365.48,363.60 374.99,363.30 384.50,362.30 394.00,361.60 403.51,361.10 413.02,360.90 422.53,360.00 432.04,358.80 441.54,358.10 451.05,357.20 460.56,356.40 470.07,355.30 479.58,353.90 489.08,352.20 498.59,349.60 508.10,348.00 517.61,346.70 527.12,344.40 536.62,343.00 546.13,341.70 555.64,339.40 565.15,336.10 574.66,333.30 584.16,330.60 593.67,328.30 603.18,327.20 612.69,325.60 622.20,323.30" fill="none" stroke="#4a6aa8" stroke-width="1.2"/>
<circle cx="32.70" cy="369.00" r="1.35" fill="#3e5f9e"/>
<circle cx="42.21" cy="369.00" r="1.35" fill="#3e5f9e"/>
<circle cx="51.72" cy="369.00" r="1.35" fill="#3e5f9e"/>
<circle cx="61.22" cy="369.00" r="1.35" fill="#3e5f9e"/>
<circle cx="70.73" cy="369.00" r="1.35" fill="#3e5f9e"/>
<circle cx="80.24" cy="369.00" r="1.35" fill="#3e5f9e"/>
<circle cx="89.75" cy="369.00" r="1.35" fill="#3e5f9e"/>
<circle cx="99.26" cy="368.98" r="1.35" fill="#3e5f9e"/>
<text x="99.26" y="366.68" font-size="2.9" fill="#555" text-anchor="middle">79</text>
<circle cx="108.76" cy="368.93" r="1.35" fill="#3e5f9e"/>
<text x="108.76" y="366.63" font-size="2.9" fill="#555" text-anchor="middle">91</text>
<circle cx="118.27" cy="368.86" r="1.35" fill="#3e5f9e"/>
<text x="118.27" y="366.56" font-size="2.9" fill="#555" text-anchor="middle">107</text>
<circle cx="127.78" cy="368.77" r="1.35" fill="#3e5f9e"/>
<text x="127.78" y="366.47" font-size="2.9" fill="#555" text-anchor="middle">128</text>
<circle cx="137.29" cy="368.68" r="1.35" fill="#3e5f9e"/>
<text x="137.29" y="366.38" font-size="2.9" fill="#555" text-anchor="middle">151</text>
<circle cx="146.80" cy="368.57" r="1.35" fill="#3e5f9e"/>
<text x="146.80" y="366.27" font-size="2.9" fill="#555" text-anchor="middle">178</text>
<circle cx="156.30" cy="368.44" r="1.35" fill="#3e5f9e"/>
<text x="156.30" y="366.14" font-size="2.9" fill="#555" text-anchor="middle">207</text>
<circle cx="165.81" cy="368.31" r="1.35" fill="#3e5f9e"/>
<text x="165.81" y="366.01" font-size="2.9" fill="#555" text-anchor="middle">239</text>
<circle cx="175.32" cy="368.17" r="1.35" fill="#3e5f9e"/>
<text x="175.32" y="365.87" font-size="2.9" fill="#555" text-anchor="middle">274</text>
<circle cx="184.83" cy="368.02" r="1.35" fill="#3e5f9e"/>
<text x="184.83" y="365.72" font-size="2.9" fill="#555" text-anchor="middle">311</text>
<circle cx="194.34" cy="367.86" r="1.35" fill="#3e5f9e"/>
<text x="194.34" y="365.56" font-size="2.9" fill="#555" text-anchor="middle">350</text>
<circle cx="203.84" cy="367.68" r="1.35" fill="#3e5f9e"/>
<text x="203.84" y="365.38" font-size="2.9" fill="#555" text-anchor="middle">391</text>
<circle cx="213.35" cy="367.50" r="1.35" fill="#3e5f9e"/>
<text x="213.35" y="365.20" font-size="2.9" fill="#555" text-anchor="middle">435</text>
<circle cx="222.86" cy="367.32" r="1.35" fill="#3e5f9e"/>
<text x="222.86" y="365.02" font-size="2.9" fill="#555" text-anchor="middle">480</text>
<circle cx="232.37" cy="367.12" r="1.35" fill="#3e5f9e"/>
<text x="232.37" y="364.82" font-size="2.9" fill="#555" text-anchor="middle">528</text>
<circle cx="241.88" cy="366.92" r="1.35" fill="#3e5f9e"/>
<text x="241.88" y="364.62" font-size="2.9" fill="#555" text-anchor="middle">577</text>
<circle cx="251.38" cy="366.70" r="1.35" fill="#3e5f9e"/>
<text x="251.38" y="364.40" font-size="2.9" fill="#555" text-anchor="middle">629</text>
<circle cx="260.89" cy="366.48" r="1.35" fill="#3e5f9e"/>
<text x="260.89" y="364.18" font-size="2.9" fill="#555" text-anchor="middle">682</text>
<circle cx="270.40" cy="366.26" r="1.35" fill="#3e5f9e"/>
<text x="270.40" y="363.96" font-size="2.9" fill="#555" text-anchor="middle">737</text>
<circle cx="279.91" cy="366.02" r="1.35" fill="#3e5f9e"/>
<text x="279.91" y="363.72" font-size="2.9" fill="#555" text-anchor="middle">794</text>
<circle cx="289.42" cy="365.78" r="1.35" fill="#3e5f9e"/>
<text x="289.42" y="363.48" font-size="2.9" fill="#555" text-anchor="middle">853</text>
<circle cx="298.92" cy="365.53" r="1.35" fill="#3e5f9e"/>
<text x="298.92" y="363.23" font-size="2.9" fill="#555" text-anchor="middle">913</text>
<circle cx="308.43" cy="365.27" r="1.35" fill="#3e5f9e"/>
<text x="308.43" y="362.97" font-size="2.9" fill="#555" text-anchor="middle">975</text>
<circle cx="317.94" cy="365.01" r="1.35" fill="#3e5f9e"/>
<text x="317.94" y="362.71" font-size="2.9" fill="#555" text-anchor="middle">1.038</text>
<circle cx="327.45" cy="364.74" r="1.35" fill="#3e5f9e"/>
<text x="327.45" y="362.44" font-size="2.9" fill="#555" text-anchor="middle">1.104</text>
<circle cx="336.96" cy="364.47" r="1.35" fill="#3e5f9e"/>
<text x="336.96" y="362.17" font-size="2.9" fill="#555" text-anchor="middle">1.170</text>
<circle cx="346.46" cy="364.18" r="1.35" fill="#3e5f9e"/>
<text x="346.46" y="361.88" font-size="2.9" fill="#555" text-anchor="middle">1.239</text>
<circle cx="355.97" cy="363.90" r="1.35" fill="#3e5f9e"/>
<text x="355.97" y="361.60" font-size="2.9" fill="#555" text-anchor="middle">1.309</text>
<circle cx="365.48" cy="363.60" r="1.35" fill="#3e5f9e"/>
<text x="365.48" y="361.30" font-size="2.9" fill="#555" text-anchor="middle">1.380</text>
<circle cx="374.99" cy="363.30" r="1.35" fill="#3e5f9e"/>
<text x="374.99" y="361.00" font-size="2.9" fill="#555" text-anchor="middle">1.453</text>
<circle cx="384.50" cy="362.30" r="1.35" fill="#3e5f9e"/>
<text x="384.50" y="360.00" font-size="2.9" fill="#555" text-anchor="middle">1.695</text>
<circle cx="394.00" cy="361.60" r="1.35" fill="#3e5f9e"/>
<text x="394.00" y="359.30" font-size="2.9" fill="#555" text-anchor="middle">1.864</text>
<circle cx="403.51" cy="361.10" r="1.35" fill="#3e5f9e"/>
<text x="403.51" y="358.80" font-size="2.9" fill="#555" text-anchor="middle">1.985</text>
<circle cx="413.02" cy="360.90" r="1.35" fill="#3e5f9e"/>
<text x="413.02" y="358.60" font-size="2.9" fill="#555" text-anchor="middle">2.034</text>
<circle cx="422.53" cy="360.00" r="1.35" fill="#3e5f9e"/>
<text x="422.53" y="357.70" font-size="2.9" fill="#555" text-anchor="middle">2.252</text>
<circle cx="432.04" cy="358.80" r="1.35" fill="#3e5f9e"/>
<text x="432.04" y="356.50" font-size="2.9" fill="#555" text-anchor="middle">2.542</text>
<circle cx="441.54" cy="358.10" r="1.35" fill="#3e5f9e"/>
<text x="441.54" y="355.80" font-size="2.9" fill="#555" text-anchor="middle">2.712</text>
<circle cx="451.05" cy="357.20" r="1.35" fill="#3e5f9e"/>
<text x="451.05" y="354.90" font-size="2.9" fill="#555" text-anchor="middle">2.930</text>
<circle cx="460.56" cy="356.40" r="1.35" fill="#3e5f9e"/>
<text x="460.56" y="354.10" font-size="2.9" fill="#555" text-anchor="middle">3.123</text>
<circle cx="470.07" cy="355.30" r="1.35" fill="#3e5f9e"/>
<text x="470.07" y="353.00" font-size="2.9" fill="#555" text-anchor="middle">3.390</text>
<circle cx="479.58" cy="353.90" r="1.35" fill="#3e5f9e"/>
<text x="479.58" y="351.60" font-size="2.9" fill="#555" text-anchor="middle">3.729</text>
<circle cx="489.08" cy="352.20" r="1.35" fill="#3e5f9e"/>
<text x="489.08" y="349.90" font-size="2.9" fill="#555" text-anchor="middle">4.140</text>
<circle cx="498.59" cy="349.60" r="1.35" fill="#3e5f9e"/>
<text x="498.59" y="347.30" font-size="2.9" fill="#555" text-anchor="middle">4.770</text>
<circle cx="508.10" cy="348.00" r="1.35" fill="#3e5f9e"/>
<text x="508.10" y="345.70" font-size="2.9" fill="#555" text-anchor="middle">5.157</text>
<circle cx="517.61" cy="346.70" r="1.35" fill="#3e5f9e"/>
<text x="517.61" y="344.40" font-size="2.9" fill="#555" text-anchor="middle">5.472</text>
<circle cx="527.12" cy="344.40" r="1.35" fill="#3e5f9e"/>
<text x="527.12" y="342.10" font-size="2.9" fill="#555" text-anchor="middle">6.029</text>
<circle cx="536.62" cy="343.00" r="1.35" fill="#3e5f9e"/>
<text x="536.62" y="340.70" font-size="2.9" fill="#555" text-anchor="middle">6.368</text>
<circle cx="546.13" cy="341.70" r="1.35" fill="#3e5f9e"/>
<text x="546.13" y="339.40" font-size="2.9" fill="#555" text-anchor="middle">6.683</text>
<circle cx="555.64" cy="339.40" r="1.35" fill="#3e5f9e"/>
<text x="555.64" y="337.10" font-size="2.9" fill="#555" text-anchor="middle">7.240</text>
<circle cx="565.15" cy="336.10" r="1.35" fill="#3e5f9e"/>
<text x="565.15" y="333.80" font-size="2.9" fill="#555" text-anchor="middle">8.039</text>
<circle cx="574.66" cy="333.30" r="1.35" fill="#3e5f9e"/>
<text x="574.66" y="331.00" font-size="2.9" fill="#555" text-anchor="middle">8.717</text>
<circle cx="584.16" cy="330.60" r="1.35" fill="#3e5f9e"/>
<text x="584.16" y="328.30" font-size="2.9" fill="#555" text-anchor="middle">9.370</text>
<circle cx="593.67" cy="328.30" r="1.35" fill="#3e5f9e"/>
<text x="593.67" y="326.00" font-size="2.9" fill="#555" text-anchor="middle">9.927</text>
<circle cx="603.18" cy="327.20" r="1.35" fill="#3e5f9e"/>
<text x="603.18" y="324.90" font-size="2.9" fill="#555" text-anchor="middle">10.194</text>
<circle cx="612.69" cy="325.60" r="1.35" fill="#3e5f9e"/>
<text x="612.69" y="323.30" font-size="2.9" fill="#555" text-anchor="middle">10.581</text>
<circle cx="622.20" cy="323.30" r="1.35" fill="#3e5f9e"/>
<text x="622.20" y="321.00" font-size="2.9" fill="#555" text-anchor="middle">11.138</text>
<polyline points="99.26,369.00 108.76,369.00 118.27,369.00 127.78,369.00 137.29,369.00 146.80,369.00 156.30,369.00 165.81,369.00 175.32,369.00 184.83,369.00 194.34,369.00 203.84,369.00 213.35,369.00 222.86,369.00 232.37,368.99 241.88,368.97 251.38,368.96 260.89,368.95 270.40,368.93 279.91,368.92 289.42,368.91 298.92,368.89 308.43,368.88 317.94,368.87 327.45,368.85 336.96,368.84 346.46,368.83 355.97,368.81 365.48,368.80 374.99,368.76 384.50,368.73 394.00,368.69 403.51,368.65 413.02,368.61 422.53,368.57 432.04,368.54 441.54,368.50 451.05,368.40 460.56,368.30 470.07,368.20 479.58,368.10 489.08,368.00 498.59,367.90 508.10,367.78 517.61,367.67 527.12,367.55 536.62,367.43 546.13,367.32 555.64,367.20 565.15,367.11 574.66,367.03 584.16,366.94 593.67,366.86 603.18,366.77 612.69,366.69 622.20,366.60" fill="none" stroke="#eea0ac" stroke-width="2.2"/>
<polyline points="99.26,369.00 108.76,369.00 118.27,369.00 127.78,369.00 137.29,369.00 146.80,369.00 156.30,369.00 165.81,369.00 175.32,369.00 184.83,369.00 194.34,369.00 203.84,369.00 213.35,369.00 222.86,369.00 232.37,368.99 241.88,368.97 251.38,368.96 260.89,368.95 270.40,368.93 279.91,368.92 289.42,368.91 298.92,368.89 308.43,368.88 317.94,368.87 327.45,368.85 336.96,368.84 346.46,368.83 355.97,368.81 365.48,368.80 374.99,368.76 384.50,368.73 394.00,368.69 403.51,368.65 413.02,368.61 422.53,368.57 432.04,368.54 441.54,368.50 451.05,368.40 460.56,368.30 470.07,368.20 479.58,368.10 489.08,368.00 498.59,367.90 508.10,367.78 517.61,367.67 527.12,367.55 536.62,367.43 546.13,367.32 555.64,367.20 565.15,367.11 574.66,367.03 584.16,366.94 593.67,366.86 603.18,366.77 612.69,366.69 622.20,366.60" fill="none" stroke="#a3182f" stroke-width="1.1"/>
<circle cx="99.26" cy="369.00" r="1.3" fill="#a0142e"/>
<circle cx="108.76" cy="369.00" r="1.3" fill="#a0142e"/>
<circle cx="118.27" cy="369.00" r="1.3" fill="#a0142e"/>
<circle cx="127.78" cy="369.00" r="1.3" fill="#a0142e"/>
<circle cx="137.29" cy="369.00" r="1.3" fill="#a0142e"/>
<circle cx="146.80" cy="369.00" r="1.3" fill="#a0142e"/>
<circle cx="156.30" cy="369.00" r="1.3" fill="#a0142e"/>
<circle cx="165.81" cy="369.00" r="1.3" fill="#a0142e"/>
<circle cx="175.32" cy="369.00" r="1.3" fill="#a0142e"/>
<circle cx="184.83" cy="369.00" r="1.3" fill="#a0142e"/>
<circle cx="194.34" cy="369.00" r="1.3" fill="#a0142e"/>
<circle cx="203.84" cy="369.00" r="1.3" fill="#a0142e"/>
<circle cx="213.35" cy="369.00" r="1.3" fill="#a0142e"/>
<circle cx="222.86" cy="369.00" r="1.3" fill="#a0142e"/>
<text x="222.86" y="366.00" font-size="2.7" fill="#5a5a5a" text-anchor="middle">73</text>
<circle cx="232.37" cy="368.99" r="1.3" fill="#a0142e"/>
<text x="232.37" y="365.99" font-size="2.7" fill="#5a5a5a" text-anchor="middle">76</text>
<circle cx="241.88" cy="368.97" r="1.3" fill="#a0142e"/>
<text x="241.88" y="365.97" font-size="2.7" fill="#5a5a5a" text-anchor="middle">79</text>
<circle cx="251.38" cy="368.96" r="1.3" fill="#a0142e"/>
<text x="251.38" y="365.96" font-size="2.7" fill="#5a5a5a" text-anchor="middle">82</text>
<circle cx="260.89" cy="368.95" r="1.3" fill="#a0142e"/>
<text x="260.89" y="365.95" font-size="2.7" fill="#5a5a5a" text-anchor="middle">86</text>
<circle cx="270.40" cy="368.93" r="1.3" fill="#a0142e"/>
<text x="270.40" y="365.93" font-size="2.7" fill="#5a5a5a" text-anchor="middle">89</text>
<circle cx="279.91" cy="368.92" r="1.3" fill="#a0142e"/>
<text x="279.91" y="365.92" font-size="2.7" fill="#5a5a5a" text-anchor="middle">92</text>
<circle cx="289.42" cy="368.91" r="1.3" fill="#a0142e"/>
<text x="289.42" y="365.91" font-size="2.7" fill="#5a5a5a" text-anchor="middle">95</text>
<circle cx="298.92" cy="368.89" r="1.3" fill="#a0142e"/>
<text x="298.92" y="365.89" font-size="2.7" fill="#5a5a5a" text-anchor="middle">98</text>
<circle cx="308.43" cy="368.88" r="1.3" fill="#a0142e"/>
<text x="308.43" y="365.88" font-size="2.7" fill="#5a5a5a" text-anchor="middle">102</text>
<circle cx="317.94" cy="368.87" r="1.3" fill="#a0142e"/>
<text x="317.94" y="365.87" font-size="2.7" fill="#5a5a5a" text-anchor="middle">105</text>
<circle cx="327.45" cy="368.85" r="1.3" fill="#a0142e"/>
<text x="327.45" y="365.85" font-size="2.7" fill="#5a5a5a" text-anchor="middle">108</text>
<circle cx="336.96" cy="368.84" r="1.3" fill="#a0142e"/>
<text x="336.96" y="365.84" font-size="2.7" fill="#5a5a5a" text-anchor="middle">111</text>
<circle cx="346.46" cy="368.83" r="1.3" fill="#a0142e"/>
<text x="346.46" y="365.83" font-size="2.7" fill="#5a5a5a" text-anchor="middle">115</text>
<circle cx="355.97" cy="368.81" r="1.3" fill="#a0142e"/>
<text x="355.97" y="365.81" font-size="2.7" fill="#5a5a5a" text-anchor="middle">118</text>
<circle cx="365.48" cy="368.80" r="1.3" fill="#a0142e"/>
<text x="365.48" y="365.80" font-size="2.7" fill="#5a5a5a" text-anchor="middle">121</text>
<circle cx="374.99" cy="368.76" r="1.3" fill="#a0142e"/>
<text x="374.99" y="365.76" font-size="2.7" fill="#5a5a5a" text-anchor="middle">130</text>
<circle cx="384.50" cy="368.73" r="1.3" fill="#a0142e"/>
<text x="384.50" y="365.73" font-size="2.7" fill="#5a5a5a" text-anchor="middle">139</text>
<circle cx="394.00" cy="368.69" r="1.3" fill="#a0142e"/>
<text x="394.00" y="365.69" font-size="2.7" fill="#5a5a5a" text-anchor="middle">148</text>
<circle cx="403.51" cy="368.65" r="1.3" fill="#a0142e"/>
<text x="403.51" y="365.65" font-size="2.7" fill="#5a5a5a" text-anchor="middle">157</text>
<circle cx="413.02" cy="368.61" r="1.3" fill="#a0142e"/>
<text x="413.02" y="365.61" font-size="2.7" fill="#5a5a5a" text-anchor="middle">166</text>
<circle cx="422.53" cy="368.57" r="1.3" fill="#a0142e"/>
<text x="422.53" y="365.57" font-size="2.7" fill="#5a5a5a" text-anchor="middle">176</text>
<circle cx="432.04" cy="368.54" r="1.3" fill="#a0142e"/>
<text x="432.04" y="365.54" font-size="2.7" fill="#5a5a5a" text-anchor="middle">185</text>
<circle cx="441.54" cy="368.50" r="1.3" fill="#a0142e"/>
<text x="441.54" y="365.50" font-size="2.7" fill="#5a5a5a" text-anchor="middle">194</text>
<circle cx="451.05" cy="368.40" r="1.3" fill="#a0142e"/>
<text x="451.05" y="365.40" font-size="2.7" fill="#5a5a5a" text-anchor="middle">218</text>
<circle cx="460.56" cy="368.30" r="1.3" fill="#a0142e"/>
<text x="460.56" y="365.30" font-size="2.7" fill="#5a5a5a" text-anchor="middle">242</text>
<circle cx="470.07" cy="368.20" r="1.3" fill="#a0142e"/>
<text x="470.07" y="365.20" font-size="2.7" fill="#5a5a5a" text-anchor="middle">266</text>
<circle cx="479.58" cy="368.10" r="1.3" fill="#a0142e"/>
<text x="479.58" y="365.10" font-size="2.7" fill="#5a5a5a" text-anchor="middle">291</text>
<circle cx="489.08" cy="368.00" r="1.3" fill="#a0142e"/>
<text x="489.08" y="365.00" font-size="2.7" fill="#5a5a5a" text-anchor="middle">315</text>
<circle cx="498.59" cy="367.90" r="1.3" fill="#a0142e"/>
<text x="498.59" y="364.90" font-size="2.7" fill="#5a5a5a" text-anchor="middle">339</text>
<circle cx="508.10" cy="367.78" r="1.3" fill="#a0142e"/>
<text x="508.10" y="364.78" font-size="2.7" fill="#5a5a5a" text-anchor="middle">367</text>
<circle cx="517.61" cy="367.67" r="1.3" fill="#a0142e"/>
<text x="517.61" y="364.67" font-size="2.7" fill="#5a5a5a" text-anchor="middle">395</text>
<circle cx="527.12" cy="367.55" r="1.3" fill="#a0142e"/>
<text x="527.12" y="364.55" font-size="2.7" fill="#5a5a5a" text-anchor="middle">424</text>
<circle cx="536.62" cy="367.43" r="1.3" fill="#a0142e"/>
<text x="536.62" y="364.43" font-size="2.7" fill="#5a5a5a" text-anchor="middle">452</text>
<circle cx="546.13" cy="367.32" r="1.3" fill="#a0142e"/>
<text x="546.13" y="364.32" font-size="2.7" fill="#5a5a5a" text-anchor="middle">480</text>
<circle cx="555.64" cy="367.20" r="1.3" fill="#a0142e"/>
<text x="555.64" y="364.20" font-size="2.7" fill="#5a5a5a" text-anchor="middle">508</text>
<circle cx="565.15" cy="367.11" r="1.3" fill="#a0142e"/>
<text x="565.15" y="364.11" font-size="2.7" fill="#5a5a5a" text-anchor="middle">529</text>
<circle cx="574.66" cy="367.03" r="1.3" fill="#a0142e"/>
<text x="574.66" y="364.03" font-size="2.7" fill="#5a5a5a" text-anchor="middle">550</text>
<circle cx="584.16" cy="366.94" r="1.3" fill="#a0142e"/>
<text x="584.16" y="363.94" font-size="2.7" fill="#5a5a5a" text-anchor="middle">571</text>
<circle cx="593.67" cy="366.86" r="1.3" fill="#a0142e"/>
<text x="593.67" y="363.86" font-size="2.7" fill="#5a5a5a" text-anchor="middle">591</text>
<circle cx="603.18" cy="366.77" r="1.3" fill="#a0142e"/>
<text x="603.18" y="363.77" font-size="2.7" fill="#5a5a5a" text-anchor="middle">612</text>
<circle cx="612.69" cy="366.69" r="1.3" fill="#a0142e"/>
<text x="612.69" y="363.69" font-size="2.7" fill="#5a5a5a" text-anchor="middle">633</text>
<circle cx="622.20" cy="366.60" r="1.3" fill="#a0142e"/>
<text x="622.20" y="363.60" font-size="2.7" fill="#5a5a5a" text-anchor="middle">654</text>
<polyline points="32.70,369.00 42.21,369.00 51.72,369.00 61.22,369.00 70.73,369.00 80.24,369.00 89.75,369.00 99.26,365.50 108.76,365.30 118.27,365.30 127.78,365.20 137.29,365.10 146.80,365.10 156.30,364.90 165.81,364.30 175.32,364.00 184.83,363.60 194.34,363.60 203.84,363.20 213.35,362.50 222.86,361.70 232.37,360.30 241.88,359.00 251.38,358.20 260.89,357.50 270.40,356.90 279.91,355.60 289.42,354.30 298.92,352.70 308.43,351.40 317.94,349.90 327.45,348.80 336.96,348.20 346.46,346.70 355.97,345.60 365.48,343.40 374.99,340.90 384.50,339.30 394.00,337.70 403.51,337.00 413.02,333.90 422.53,331.80 432.04,329.90 441.54,328.00 451.05,326.40 460.56,325.40 470.07,324.50 479.58,321.20 489.08,318.20 498.59,314.20 508.10,310.50 517.61,306.40 527.12,303.60 536.62,302.80 546.13,299.40 555.64,294.40 565.15,290.30 574.66,285.60 584.16,282.00 593.67,280.60 603.18,279.70 612.69,277.20 622.20,268.60" fill="none" stroke="#8c8c8c" stroke-width="0.9"/>
<circle cx="32.70" cy="369.00" r="1.2" fill="#8c8c8c"/>
<text x="32.70" y="366.80" font-size="2.9" fill="#555" text-anchor="middle">193</text>
<circle cx="42.21" cy="369.00" r="1.2" fill="#8c8c8c"/>
<text x="42.21" y="366.80" font-size="2.9" fill="#555" text-anchor="middle">193</text>
<circle cx="51.72" cy="369.00" r="1.2" fill="#8c8c8c"/>
<text x="51.72" y="366.80" font-size="2.9" fill="#555" text-anchor="middle">193</text>
<circle cx="61.22" cy="369.00" r="1.2" fill="#8c8c8c"/>
<text x="61.22" y="366.80" font-size="2.9" fill="#555" text-anchor="middle">193</text>
<circle cx="70.73" cy="369.00" r="1.2" fill="#8c8c8c"/>
<text x="70.73" y="366.80" font-size="2.9" fill="#555" text-anchor="middle">193</text>
<circle cx="80.24" cy="369.00" r="1.2" fill="#8c8c8c"/>
<text x="80.24" y="366.80" font-size="2.9" fill="#555" text-anchor="middle">193</text>
<circle cx="89.75" cy="369.00" r="1.2" fill="#8c8c8c"/>
<text x="89.75" y="366.80" font-size="2.9" fill="#555" text-anchor="middle">193</text>
<circle cx="99.26" cy="365.50" r="1.2" fill="#8c8c8c"/>
<text x="99.26" y="363.30" font-size="2.9" fill="#555" text-anchor="middle">920</text>
<circle cx="108.76" cy="365.30" r="1.2" fill="#8c8c8c"/>
<text x="108.76" y="363.10" font-size="2.9" fill="#555" text-anchor="middle">969</text>
<circle cx="118.27" cy="365.30" r="1.2" fill="#8c8c8c"/>
<text x="118.27" y="363.10" font-size="2.9" fill="#555" text-anchor="middle">969</text>
<circle cx="127.78" cy="365.20" r="1.2" fill="#8c8c8c"/>
<text x="127.78" y="363.00" font-size="2.9" fill="#555" text-anchor="middle">993</text>
<circle cx="137.29" cy="365.10" r="1.2" fill="#8c8c8c"/>
<text x="137.29" y="362.90" font-size="2.9" fill="#555" text-anchor="middle">1.017</text>
<circle cx="146.80" cy="365.10" r="1.2" fill="#8c8c8c"/>
<text x="146.80" y="362.90" font-size="2.9" fill="#555" text-anchor="middle">1.017</text>
<circle cx="156.30" cy="364.90" r="1.2" fill="#8c8c8c"/>
<text x="156.30" y="362.70" font-size="2.9" fill="#555" text-anchor="middle">1.065</text>
<circle cx="165.81" cy="364.30" r="1.2" fill="#8c8c8c"/>
<text x="165.81" y="362.10" font-size="2.9" fill="#555" text-anchor="middle">1.211</text>
<circle cx="175.32" cy="364.00" r="1.2" fill="#8c8c8c"/>
<text x="175.32" y="361.80" font-size="2.9" fill="#555" text-anchor="middle">1.283</text>
<circle cx="184.83" cy="363.60" r="1.2" fill="#8c8c8c"/>
<text x="184.83" y="361.40" font-size="2.9" fill="#555" text-anchor="middle">1.380</text>
<circle cx="194.34" cy="363.60" r="1.2" fill="#8c8c8c"/>
<text x="194.34" y="361.40" font-size="2.9" fill="#555" text-anchor="middle">1.380</text>
<circle cx="203.84" cy="363.20" r="1.2" fill="#8c8c8c"/>
<text x="203.84" y="361.00" font-size="2.9" fill="#555" text-anchor="middle">1.477</text>
<circle cx="213.35" cy="362.50" r="1.2" fill="#8c8c8c"/>
<text x="213.35" y="360.30" font-size="2.9" fill="#555" text-anchor="middle">1.646</text>
<circle cx="222.86" cy="361.70" r="1.2" fill="#8c8c8c"/>
<text x="222.86" y="359.50" font-size="2.9" fill="#555" text-anchor="middle">1.840</text>
<circle cx="232.37" cy="360.30" r="1.2" fill="#8c8c8c"/>
<text x="232.37" y="358.10" font-size="2.9" fill="#555" text-anchor="middle">2.179</text>
<circle cx="241.88" cy="359.00" r="1.2" fill="#8c8c8c"/>
<text x="241.88" y="356.80" font-size="2.9" fill="#555" text-anchor="middle">2.494</text>
<circle cx="251.38" cy="358.20" r="1.2" fill="#8c8c8c"/>
<text x="251.38" y="356.00" font-size="2.9" fill="#555" text-anchor="middle">2.688</text>
<circle cx="260.89" cy="357.50" r="1.2" fill="#8c8c8c"/>
<text x="260.89" y="355.30" font-size="2.9" fill="#555" text-anchor="middle">2.857</text>
<circle cx="270.40" cy="356.90" r="1.2" fill="#8c8c8c"/>
<text x="270.40" y="354.70" font-size="2.9" fill="#555" text-anchor="middle">3.002</text>
<circle cx="279.91" cy="355.60" r="1.2" fill="#8c8c8c"/>
<text x="279.91" y="353.40" font-size="2.9" fill="#555" text-anchor="middle">3.317</text>
<circle cx="289.42" cy="354.30" r="1.2" fill="#8c8c8c"/>
<text x="289.42" y="352.10" font-size="2.9" fill="#555" text-anchor="middle">3.632</text>
<circle cx="298.92" cy="352.70" r="1.2" fill="#8c8c8c"/>
<text x="298.92" y="350.50" font-size="2.9" fill="#555" text-anchor="middle">4.019</text>
<circle cx="308.43" cy="351.40" r="1.2" fill="#8c8c8c"/>
<text x="308.43" y="349.20" font-size="2.9" fill="#555" text-anchor="middle">4.334</text>
<circle cx="317.94" cy="349.90" r="1.2" fill="#8c8c8c"/>
<text x="317.94" y="347.70" font-size="2.9" fill="#555" text-anchor="middle">4.697</text>
<circle cx="327.45" cy="348.80" r="1.2" fill="#8c8c8c"/>
<text x="327.45" y="346.60" font-size="2.9" fill="#555" text-anchor="middle">4.964</text>
<circle cx="336.96" cy="348.20" r="1.2" fill="#8c8c8c"/>
<text x="336.96" y="346.00" font-size="2.9" fill="#555" text-anchor="middle">5.109</text>
<circle cx="346.46" cy="346.70" r="1.2" fill="#8c8c8c"/>
<text x="346.46" y="344.50" font-size="2.9" fill="#555" text-anchor="middle">5.472</text>
<circle cx="355.97" cy="345.60" r="1.2" fill="#8c8c8c"/>
<text x="355.97" y="343.40" font-size="2.9" fill="#555" text-anchor="middle">5.738</text>
<circle cx="365.48" cy="343.40" r="1.2" fill="#8c8c8c"/>
<text x="365.48" y="341.20" font-size="2.9" fill="#555" text-anchor="middle">6.271</text>
<circle cx="374.99" cy="340.90" r="1.2" fill="#8c8c8c"/>
<text x="374.99" y="338.70" font-size="2.9" fill="#555" text-anchor="middle">6.877</text>
<circle cx="384.50" cy="339.30" r="1.2" fill="#8c8c8c"/>
<text x="384.50" y="337.10" font-size="2.9" fill="#555" text-anchor="middle">7.264</text>
<circle cx="394.00" cy="337.70" r="1.2" fill="#8c8c8c"/>
<text x="394.00" y="335.50" font-size="2.9" fill="#555" text-anchor="middle">7.651</text>
<circle cx="403.51" cy="337.00" r="1.2" fill="#8c8c8c"/>
<text x="403.51" y="334.80" font-size="2.9" fill="#555" text-anchor="middle">7.821</text>
<circle cx="413.02" cy="333.90" r="1.2" fill="#8c8c8c"/>
<text x="413.02" y="331.70" font-size="2.9" fill="#555" text-anchor="middle">8.571</text>
<circle cx="422.53" cy="331.80" r="1.2" fill="#8c8c8c"/>
<text x="422.53" y="329.60" font-size="2.9" fill="#555" text-anchor="middle">9.080</text>
<circle cx="432.04" cy="329.90" r="1.2" fill="#8c8c8c"/>
<text x="432.04" y="327.70" font-size="2.9" fill="#555" text-anchor="middle">9.540</text>
<circle cx="441.54" cy="328.00" r="1.2" fill="#8c8c8c"/>
<text x="441.54" y="325.80" font-size="2.9" fill="#555" text-anchor="middle">10.000</text>
<circle cx="451.05" cy="326.40" r="1.2" fill="#8c8c8c"/>
<text x="451.05" y="324.20" font-size="2.9" fill="#555" text-anchor="middle">10.387</text>
<circle cx="460.56" cy="325.40" r="1.2" fill="#8c8c8c"/>
<text x="460.56" y="323.20" font-size="2.9" fill="#555" text-anchor="middle">10.630</text>
<circle cx="470.07" cy="324.50" r="1.2" fill="#8c8c8c"/>
<text x="470.07" y="322.30" font-size="2.9" fill="#555" text-anchor="middle">10.847</text>
<circle cx="479.58" cy="321.20" r="1.2" fill="#8c8c8c"/>
<text x="479.58" y="319.00" font-size="2.9" fill="#555" text-anchor="middle">11.646</text>
<circle cx="489.08" cy="318.20" r="1.2" fill="#8c8c8c"/>
<text x="489.08" y="316.00" font-size="2.9" fill="#555" text-anchor="middle">12.373</text>
<circle cx="498.59" cy="314.20" r="1.2" fill="#8c8c8c"/>
<text x="498.59" y="312.00" font-size="2.9" fill="#555" text-anchor="middle">13.341</text>
<circle cx="508.10" cy="310.50" r="1.2" fill="#8c8c8c"/>
<text x="508.10" y="308.30" font-size="2.9" fill="#555" text-anchor="middle">14.237</text>
<circle cx="517.61" cy="306.40" r="1.2" fill="#8c8c8c"/>
<text x="517.61" y="304.20" font-size="2.9" fill="#555" text-anchor="middle">15.230</text>
<circle cx="527.12" cy="303.60" r="1.2" fill="#8c8c8c"/>
<text x="527.12" y="301.40" font-size="2.9" fill="#555" text-anchor="middle">15.908</text>
<circle cx="536.62" cy="302.80" r="1.2" fill="#8c8c8c"/>
<text x="536.62" y="300.60" font-size="2.9" fill="#555" text-anchor="middle">16.102</text>
<circle cx="546.13" cy="299.40" r="1.2" fill="#8c8c8c"/>
<text x="546.13" y="297.20" font-size="2.9" fill="#555" text-anchor="middle">16.925</text>
<circle cx="555.64" cy="294.40" r="1.2" fill="#8c8c8c"/>
<text x="555.64" y="292.20" font-size="2.9" fill="#555" text-anchor="middle">18.136</text>
<circle cx="565.15" cy="290.30" r="1.2" fill="#8c8c8c"/>
<text x="565.15" y="288.10" font-size="2.9" fill="#555" text-anchor="middle">19.128</text>
<circle cx="574.66" cy="285.60" r="1.2" fill="#8c8c8c"/>
<text x="574.66" y="283.40" font-size="2.9" fill="#555" text-anchor="middle">20.266</text>
<circle cx="584.16" cy="282.00" r="1.2" fill="#8c8c8c"/>
<text x="584.16" y="279.80" font-size="2.9" fill="#555" text-anchor="middle">21.138</text>
<circle cx="593.67" cy="280.60" r="1.2" fill="#8c8c8c"/>
<text x="593.67" y="278.40" font-size="2.9" fill="#555" text-anchor="middle">21.477</text>
<circle cx="603.18" cy="279.70" r="1.2" fill="#8c8c8c"/>
<text x="603.18" y="277.50" font-size="2.9" fill="#555" text-anchor="middle">21.695</text>
<circle cx="612.69" cy="277.20" r="1.2" fill="#8c8c8c"/>
<text x="612.69" y="275.00" font-size="2.9" fill="#555" text-anchor="middle">22.300</text>
<circle cx="622.20" cy="268.60" r="1.2" fill="#8c8c8c"/>
<text x="622.20" y="266.40" font-size="2.9" fill="#555" text-anchor="middle">24.383</text>
<text x="33.60" y="373.70" font-size="2.2" fill="#4a4a4a" text-anchor="end" transform="rotate(-45 33.60 373.70)">13/03/2020</text>
<text x="43.11" y="373.70" font-size="2.2" fill="#4a4a4a" text-anchor="end" transform="rotate(-45 43.11 373.70)">14/03/2020</text>
<text x="52.62" y="373.70" font-size="2.2" fill="#4a4a4a" text-anchor="end" transform="rotate(-45 52.62 373.70)">15/03/2020</text>
<text x="62.12" y="373.70" font-size="2.2" fill="#4a4a4a" text-anchor="end" transform="rotate(-45 62.12 373.70)">16/03/2020</text>
<text x="71.63" y="373.70" font-size="2.2" fill="#4a4a4a" text-anchor="end" transform="rotate(-45 71.63 373.70)">17/03/2020</text>
<text x="81.14" y="373.70" font-size="2.2" fill="#4a4a4a" text-anchor="end" transform="rotate(-45 81.14 373.70)">18/03/2020</text>
<text x="90.65" y="373.70" font-size="2.2" fill="#4a4a4a" text-anchor="end" transform="rotate(-45 90.65 373.70)">19/03/2020</text>
<text x="100.16" y="373.70" font-size="2.2" fill="#4a4a4a" text-anchor="end" transform="rotate(-45 100.16 373.70)">20/03/2020</text>
<text x="109.66" y="373.70" font-size="2.2" fill="#4a4a4a" text-anchor="end" transform="rotate(-45 109.66 373.70)">21/03/2020</text>
<text x="119.17" y="373.70" font-size="2.2" fill="#4a4a4a" text-anchor="end" transform="rotate(-45 119.17 373.70)">22/03/2020</text>
<text x="128.68" y="373.70" font-size="2.2" fill="#4a4a4a" text-anchor="end" transform="rotate(-45 128.68 373.70)">23/03/2020</text>
<text x="138.19" y="373.70" font-size="2.2" fill="#4a4a4a" text-anchor="end" transform="rotate(-45 138.19 373.70)">24/03/2020</text>
<text x="147.70" y="373.70" font-size="2.2" fill="#4a4a4a" text-anchor="end" transform="rotate(-45 147.70 373.70)">25/03/2020</text>
<text x="157.20" y="373.70" font-size="2.2" fill="#4a4a4a" text-anchor="end" transform="rotate(-45 157.20 373.70)">26/03/2020</text>
<text x="166.71" y="373.70" font-size="2.2" fill="#4a4a4a" text-anchor="end" transform="rotate(-45 166.71 373.70)">27/03/2020</text>
<text x="176.22" y="373.70" font-size="2.2" fill="#4a4a4a" text-anchor="end" transform="rotate(-45 176.22 373.70)">28/03/2020</text>
<text x="185.73" y="373.70" font-size="2.2" fill="#4a4a4a" text-anchor="end" transform="rotate(-45 185.73 373.70)">29/03/2020</text>
<text x="195.24" y="373.70" font-size="2.2" fill="#4a4a4a" text-anchor="end" transform="rotate(-45 195.24 373.70)">30/03/2020</text>
<text x="204.74" y="373.70" font-size="2.2" fill="#4a4a4a" text-anchor="end" transform="rotate(-45 204.74 373.70)">31/03/2020</text>
<text x="214.25" y="373.70" font-size="2.2" fill="#4a4a4a" text-anchor="end" transform="rotate(-45 214.25 373.70)">01/04/2020</text>
<text x="223.76" y="373.70" font-size="2.2" fill="#4a4a4a" text-anchor="end" transform="rotate(-45 223.76 373.70)">02/04/2020</text>
<text x="233.27" y="373.70" font-size="2.2" fill="#4a4a4a" text-anchor="end" transform="rotate(-45 233.27 373.70)">03/04/2020</text>
<text x="242.78" y="373.70" font-size="2.2" fill="#4a4a4a" text-anchor="end" transform="rotate(-45 242.78 373.70)">04/04/2020</text>
<text x="252.28" y="373.70" font-size="2.2" fill="#4a4a4a" text-anchor="end" transform="rotate(-45 252.28 373.70)">05/04/2020</text>
<text x="261.79" y="373.70" font-size="2.2" fill="#4a4a4a" text-anchor="end" transform="rotate(-45 261.79 373.70)">06/04/2020</text>
<text x="271.30" y="373.70" font-size="2.2" fill="#4a4a4a" text-anchor="end" transform="rotate(-45 271.30 373.70)">07/04/2020</text>
<text x="280.81" y="373.70" font-size="2.2" fill="#4a4a4a" text-anchor="end" transform="rotate(-45 280.81 373.70)">08/04/2020</text>
<text x="290.32" y="373.70" font-size="2.2" fill="#4a4a4a" text-anchor="end" transform="rotate(-45 290.32 373.70)">09/04/2020</text>
<text x="299.82" y="373.70" font-size="2.2" fill="#4a4a4a" text-anchor="end" transform="rotate(-45 299.82 373.70)">10/04/2020</text>
<text x="309.33" y="373.70" font-size="2.2" fill="#4a4a4a" text-anchor="end" transform="rotate(-45 309.33 373.70)">11/04/2020</text>
<text x="318.84" y="373.70" font-size="2.2" fill="#4a4a4a" text-anchor="end" transform="rotate(-45 318.84 373.70)">12/04/2020</text>
<text x="328.35" y="373.70" font-size="2.2" fill="#4a4a4a" text-anchor="end" transform="rotate(-45 328.35 373.70)">13/04/2020</text>
<text x="337.86" y="373.70" font-size="2.2" fill="#4a4a4a" text-anchor="end" transform="rotate(-45 337.86 373.70)">14/04/2020</text>
<text x="347.36" y="373.70" font-size="2.2" fill="#4a4a4a" text-anchor="end" transform="rotate(-45 347.36 373.70)">15/04/2020</text>
<text x="356.87" y="373.70" font-size="2.2" fill="#4a4a4a" text-anchor="end" transform="rotate(-45 356.87 373.70)">16/04/2020</text>
<text x="366.38" y="373.70" font-size="2.2" fill="#4a4a4a" text-anchor="end" transform="rotate(-45 366.38 373.70)">17/04/2020</text>
<text x="375.89" y="373.70" font-size="2.2" fill="#4a4a4a" text-anchor="end" transform="rotate(-45 375.89 373.70)">18/04/2020</text>
<text x="385.40" y="373.70" font-size="2.2" fill="#4a4a4a" text-anchor="end" transform="rotate(-45 385.40 373.70)">19/04/2020</text>
<text x="394.90" y="373.70" font-size="2.2" fill="#4a4a4a" text-anchor="end" transform="rotate(-45 394.90 373.70)">20/04/2020</text>
<text x="404.41" y="373.70" font-size="2.2" fill="#4a4a4a" text-anchor="end" transform="rotate(-45 404.41 373.70)">21/04/2020</text>
<text x="413.92" y="373.70" font-size="2.2" fill="#4a4a4a" text-anchor="end" transform="rotate(-45 413.92 373.70)">22/04/2020</text>
<text x="423.43" y="373.70" font-size="2.2" fill="#4a4a4a" text-anchor="end" transform="rotate(-45 423.43 373.70)">23/04/2020</text>
<text x="432.94" y="373.70" font-size="2.2" fill="#4a4a4a" text-anchor="end" transform="rotate(-45 432.94 373.70)">24/04/2020</text>
<text x="442.44" y="373.70" font-size="2.2" fill="#4a4a4a" text-anchor="end" transform="rotate(-45 442.44 373.70)">25/04/2020</text>
<text x="451.95" y="373.70" font-size="2.2" fill="#4a4a4a" text-anchor="end" transform="rotate(-45 451.95 373.70)">26/04/2020</text>
<text x="461.46" y="373.70" font-size="2.2" fill="#4a4a4a" text-anchor="end" transform="rotate(-45 461.46 373.70)">27/04/2020</text>
<text x="470.97" y="373.70" font-size="2.2" fill="#4a4a4a" text-anchor="end" transform="rotate(-45 470.97 373.70)">28/04/2020</text>
<text x="480.48" y="373.70" font-size="2.2" fill="#4a4a4a" text-anchor="end" transform="rotate(-45 480.48 373.70)">29/04/2020</text>
<text x="489.98" y="373.70" font-size="2.2" fill="#4a4a4a" text-anchor="end" transform="rotate(-45 489.98 373.70)">30/04/2020</text>
<text x="499.49" y="373.70" font-size="2.2" fill="#4a4a4a" text-anchor="end" transform="rotate(-45 499.49 373.70)">01/05/2020</text>
<text x="509.00" y="373.70" font-size="2.2" fill="#4a4a4a" text-anchor="end" transform="rotate(-45 509.00 373.70)">02/05/2020</text>
<text x="518.51" y="373.70" font-size="2.2" fill="#4a4a4a" text-anchor="end" transform="rotate(-45 518.51 373.70)">03/05/2020</text>
<text x="528.02" y="373.70" font-size="2.2" fill="#4a4a4a" text-anchor="end" transform="rotate(-45 528.02 373.70)">04/05/2020</text>
<text x="537.52" y="373.70" font-size="2.2" fill="#4a4a4a" text-anchor="end" transform="rotate(-45 537.52 373.70)">05/05/2020</text>
<text x="547.03" y="373.70" font-size="2.2" fill="#4a4a4a" text-anchor="end" transform="rotate(-45 547.03 373.70)">06/05/2020</text>
<text x="556.54" y="373.70" font-size="2.2" fill="#4a4a4a" text-anchor="end" transform="rotate(-45 556.54 373.70)">07/05/2020</text>
<text x="566.05" y="373.70" font-size="2.2" fill="#4a4a4a" text-anchor="end" transform="rotate(-45 566.05 373.70)">08/05/2020</text>
<text x="575.56" y="373.70" font-size="2.2" fill="#4a4a4a" text-anchor="end" transform="rotate(-45 575.56 373.70)">09/05/2020</text>
<text x="585.06" y="373.70" font-size="2.2" fill="#4a4a4a" text-anchor="end" transform="rotate(-45 585.06 373.70)">10/05/2020</text>
<text x="594.57" y="373.70" font-size="2.2" fill="#4a4a4a" text-anchor="end" transform="rotate(-45 594.57 373.70)">11/05/2020</text>
<text x="604.08" y="373.70" font-size="2.2" fill="#4a4a4a" text-anchor="end" transform="rotate(-45 604.08 373.70)">12/05/2020</text>
<text x="613.59" y="373.70" font-size="2.2" fill="#4a4a4a" text-anchor="end" transform="rotate(-45 613.59 373.70)">13/05/2020</text>
<text x="623.10" y="373.70" font-size="2.2" fill="#4a4a4a" text-anchor="end" transform="rotate(-45 623.10 373.70)">14/05/2020</text>
<line x1="208.2" y1="387.1" x2="215.6" y2="387.1" stroke="#4a6aa8" stroke-width="0.9"/><circle cx="211.9" cy="387.1" r="1.1" fill="#3e5f9e"/>
<text x="217" y="387.9" font-size="2.2" fill="#595959" textLength="67.2" lengthAdjust="spacingAndGlyphs">Casos confirmados acumulados por data de diagnóstico</text>
<line x1="296.6" y1="387.1" x2="303.8" y2="387.1" stroke="#b81c3c" stroke-width="1.2"/><circle cx="300.2" cy="387.1" r="1.2" fill="#b81c3c"/>
<text x="305.3" y="387.9" font-size="2.2" fill="#595959" textLength="77.9" lengthAdjust="spacingAndGlyphs">Óbitos acumulados confirmados por data de diagnóstico</text>
<line x1="394" y1="387.1" x2="400.5" y2="387.1" stroke="#8c8c8c" stroke-width="0.9"/><circle cx="397.2" cy="387.1" r="1.1" fill="#8c8c8c"/>
<text x="401.2" y="387.9" font-size="2.2" fill="#595959" textLength="36.2" lengthAdjust="spacingAndGlyphs">Total de casos confirmados</text>
<text x="631.3" y="402.1" font-size="2.4" font-weight="bold" fill="#333" text-anchor="end" textLength="56.4" lengthAdjust="spacingAndGlyphs">Dados atualizados em 19/5/2020 às 13:30</text>
<text x="374.6" y="413.3" font-size="2.9" font-weight="bold" fill="#cc3352" textLength="256.7" lengthAdjust="spacingAndGlyphs">NOTA: ESTE BOLETIM É FECHADO DIARIAMENTE ÀS 18:00 E AS INFORMAÇÕES PODEM DIVERGIR DAS INFORMAÇÕES DIVULGADAS PELOS MUNICÍPIOS</text>
<text x="567.3" y="418.0" font-size="2.7" font-weight="bold" fill="#111" textLength="64" lengthAdjust="spacingAndGlyphs">*DADOS PRELIMINARES SUJEITOS A ALTERAÇÃO</text>
<text x="15.5" y="430.2" font-size="2.4" font-weight="bold" fill="#222" textLength="60.5" lengthAdjust="spacingAndGlyphs">Av. Torquato Tapajós, 4010 - Colônia Santo Antônio</text>
<text x="15.5" y="433.2" font-size="2.4" font-weight="bold" fill="#222" textLength="41.9" lengthAdjust="spacingAndGlyphs">Fone: (92) 3182-8500 / 3182-8501</text>
<text x="15.5" y="436.0" font-size="2.4" font-weight="bold" fill="#222" textLength="66.7" lengthAdjust="spacingAndGlyphs">Manaus/AM CEP 69093-018 / CNPJ: 07.171.072/0001-96 - AM</text>
<text x="15.5" y="439.3" font-size="2.4" font-weight="bold" fill="#222" textLength="28.700000000000003" lengthAdjust="spacingAndGlyphs">Site: www.fvs.am.gov.br</text>
<text x="15.5" y="443.3" font-size="2.4" font-weight="bold" fill="#222" textLength="32.5" lengthAdjust="spacingAndGlyphs">E-mail: fvs@fvs.am.gov.br</text>
<g id="flogo">
<circle cx="295" cy="439.4" r="3.3" fill="#b8e4cc"/>
<path d="M289.4 432 Q295.5 431.4 300.6 430.6 Q301.6 430.2 302.2 429.2" stroke="#267a55" stroke-width="2.2" fill="none"/>
<path d="M290.8 431.8 L287.6 444.6" stroke="#267a55" stroke-width="2.2" fill="none"/>
<path d="M291.4 435.2 Q297.6 434.6 298.9 438.6 Q299.3 443 293.2 444.8" stroke="#267a55" stroke-width="2.0" fill="none"/>
<circle cx="294.4" cy="439.6" r="1.1" fill="#3a8a66"/>
</g>
<text x="309.1" y="434.0" font-size="2.8" font-weight="bold" fill="#1a1a1a" textLength="15.9" lengthAdjust="spacingAndGlyphs">Fundação de</text>
<text x="309.1" y="437.7" font-size="2.8" font-weight="bold" fill="#1a1a1a" textLength="18.6" lengthAdjust="spacingAndGlyphs">Vigilância em</text>
<text x="309.1" y="441.3" font-size="2.8" font-weight="bold" fill="#1a1a1a" textLength="29.3" lengthAdjust="spacingAndGlyphs">Saúde do Amazonas</text>
<g id="waves">
<path d="M566.2 444.7 C570 444.3 572 440 574.6 437.8 C577 434.5 579 433 581 432 C584 430 586 429.4 588.3 429.4 C592 429.4 594 430.2 596.8 431 C600 432 602 433.1 605.2 433.1 C609 433.1 611 430.5 614.7 429.4 C618 428 621 427 625.2 426.5 L625.2 444.7Z" fill="#2ba55e"/>
<path d="M576 441 C579 437 582 434.5 588.3 433.6 C592 433.2 595 434.5 599 435 C602 435.3 604 434.8 607 434.5 C610 433.6 613 432.2 615.5 431.3 C619 430.5 622 430.2 625.2 430.3" stroke="#9fe4b0" stroke-width="0.6" fill="none"/>
<path d="M576.8 444.7 C578 442.5 579.5 441 581 440.4 C584 439.2 586 438.9 588.3 438.9 C592 438.9 595 439.4 597.8 439.4 C601 439.4 604 439.3 606.3 438.9 C609 437.8 610.5 436 612.6 435.2 C616 434 620 433.3 625.2 433.1 L625.2 444.7Z" fill="#e6e03a"/>
<path d="M604.1 444.7 C606 442.5 607.5 441 609.4 439.9 C612 438.3 614 437.5 616.8 437.3 L625.2 437.3 L625.2 444.7Z" fill="#1f2b5c"/>
<path d="M578.5 444.7 C581 443.5 583 443.1 585.2 443.1 C588 443.1 591 443.8 594 444.7Z" fill="#232a40"/>
</g>
</svg>
</body></html>
